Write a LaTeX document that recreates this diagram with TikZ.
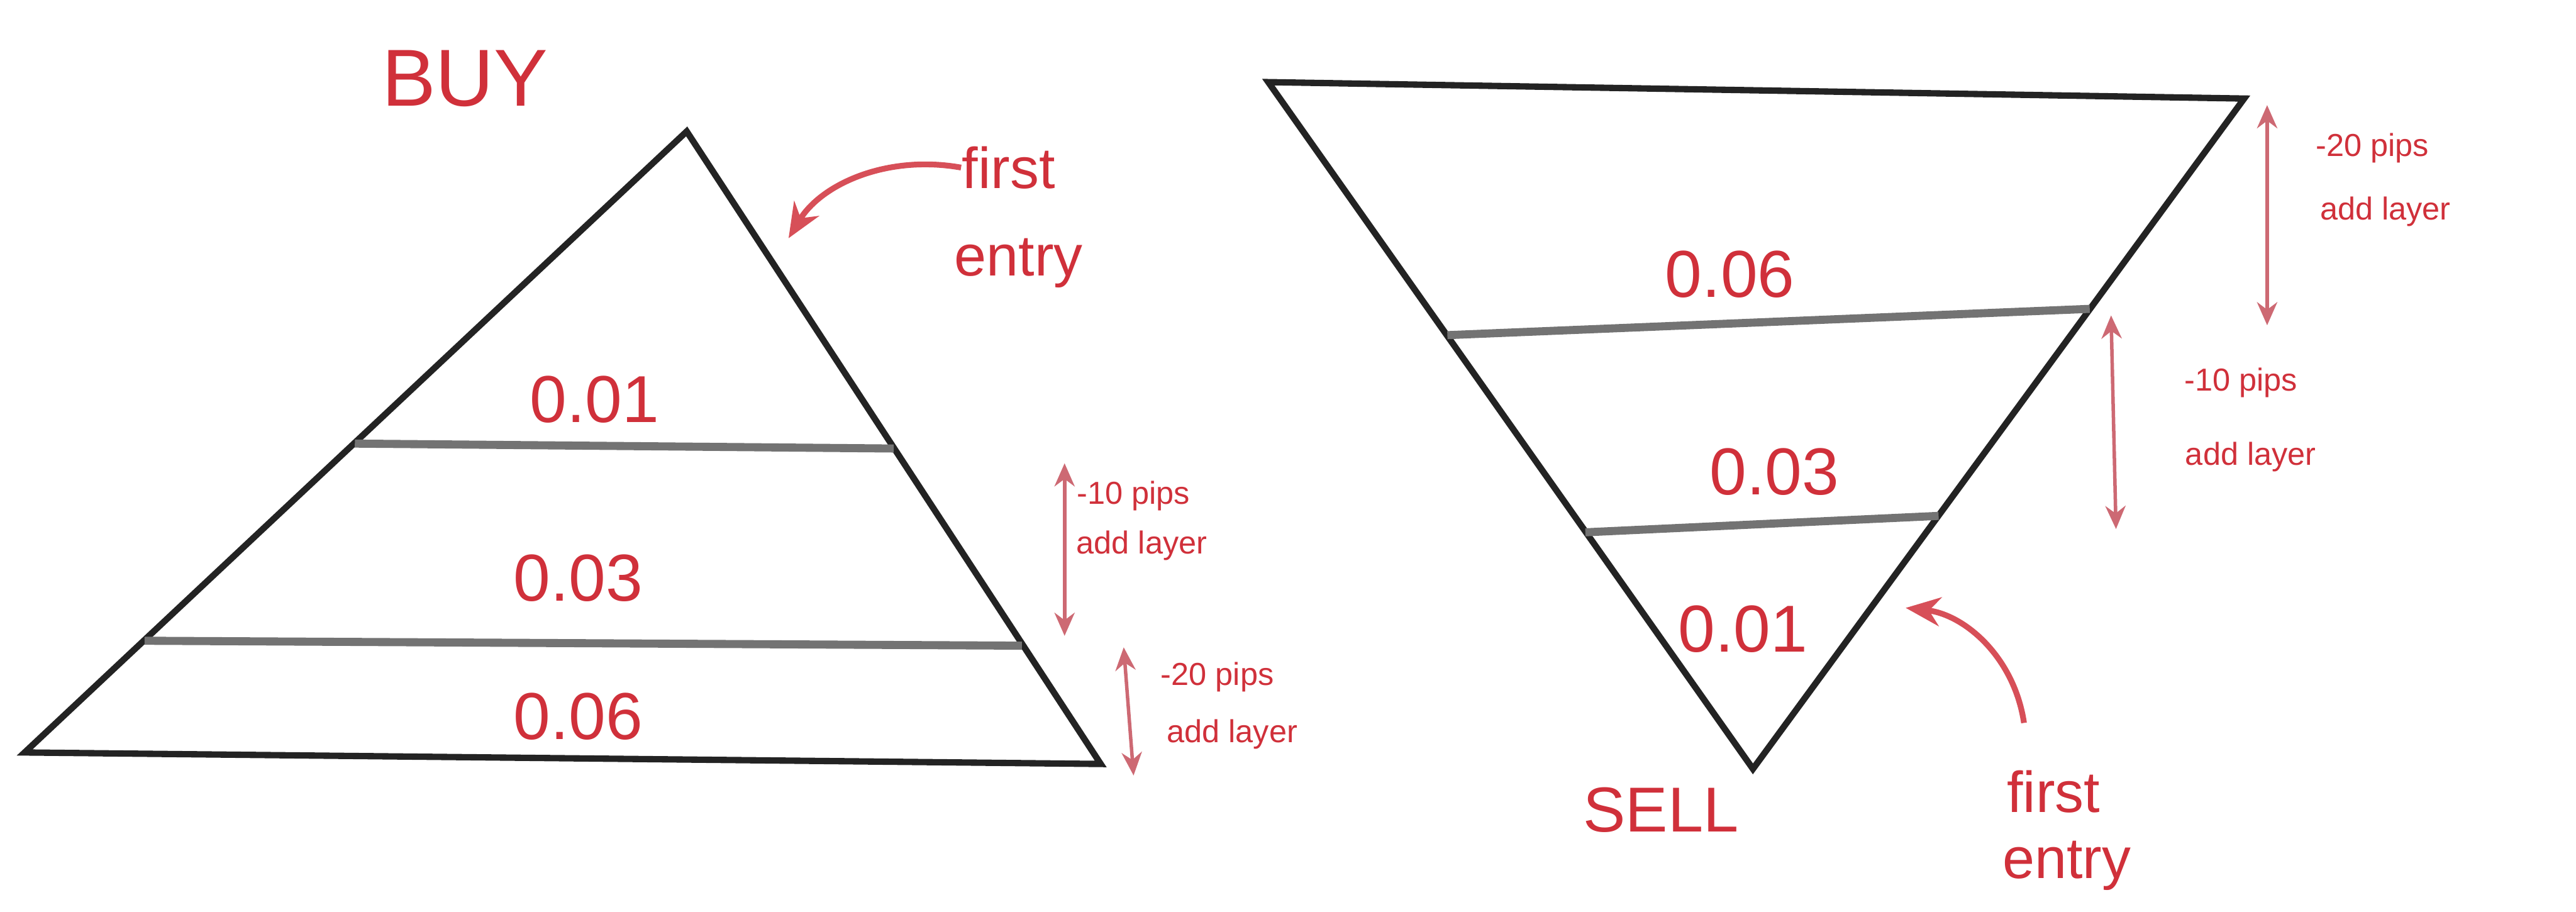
\documentclass[tikz,border=0pt]{standalone}
\usepackage{fontspec}
\setmainfont{Liberation Sans}
\usetikzlibrary{arrows.meta}
\definecolor{ink}{RGB}{208,48,58}
\definecolor{arr}{RGB}{205,105,115}
\definecolor{edgec}{RGB}{35,35,35}
\definecolor{sepc}{RGB}{115,115,115}
\begin{document}
\begin{tikzpicture}[x=0.1mm,y=-0.1mm,
  tri/.style={draw=edgec,line width=1.1pt,line join=miter},
  sepline/.style={draw=sepc,line width=1.4pt},
  lbl/.style={text=ink,font=\fontsize{11.5}{13}\selectfont,inner sep=0pt},
  titlelbl/.style={text=ink,font=\fontsize{14}{16}\selectfont,inner sep=0pt},
  sell/.style={text=ink,font=\fontsize{11}{13}\selectfont,inner sep=0pt},
  note/.style={text=ink,font=\fontsize{5.5}{7}\selectfont,inner sep=0pt},
  entrylbl/.style={text=ink,font=\fontsize{10}{11}\selectfont,inner sep=0pt},
  dimarrow/.style={draw=arr,line width=0.6pt,{Stealth[length=4pt,width=3.5pt]}-{Stealth[length=4pt,width=3.5pt]}},
  curvarrow/.style={draw=ink!85,line width=1pt,-{Stealth[length=6pt,width=5pt]}},
]
\useasboundingbox (0,0) rectangle (1568,555);

% ---------- BUY pyramid ----------
\coordinate (bA) at (418,80);
\coordinate (bB) at (15,458);
\coordinate (bC) at (670,465);
\draw[tri] (bA) -- (bB) -- (bC) -- cycle;
\coordinate (bs1l) at (216,270);
\coordinate (bs1r) at (544,273);
\coordinate (bs2l) at (88,390);
\coordinate (bs2r) at (622,393);
\draw[sepline] (bs1l) -- (bs1r);
\draw[sepline] (bs2l) -- (bs2r);

\node[titlelbl] (buy) at (283,48) {BUY};
\node[lbl] (b001) at (362,243) {0.01};
\node[lbl] (b003) at (352,352) {0.03};
\node[lbl] (b006) at (352,436) {0.06};

\node[entrylbl] (bfirst) at (614,102) {first};
\node[entrylbl] (bentry) at (620,160) {entry};
\coordinate (bhit) at (480,145);
\draw[curvarrow] (bfirst.west) .. controls (540,94) and (500,112) .. (bhit);

\coordinate (bd1t) at (648,282);
\coordinate (bd1b) at (648,387);
\draw[dimarrow] (bd1t) -- (bd1b);
\node[note] (bn1a) at (690,302) {-10 pips};
\node[note] (bn1b) at (695,332) {add layer};

\coordinate (bd2t) at (684,394);
\coordinate (bd2b) at (690,472);
\draw[dimarrow] (bd2t) -- (bd2b);
\node[note] (bn2a) at (741,412) {-20 pips};
\node[note] (bn2b) at (750,447) {add layer};

% ---------- SELL pyramid ----------
\coordinate (sA) at (772,50);
\coordinate (sB) at (1366,60);
\coordinate (sC) at (1067,468);
\draw[tri] (sA) -- (sB) -- (sC) -- cycle;
\coordinate (ss1l) at (881,204);
\coordinate (ss1r) at (1272,188);
\coordinate (ss2l) at (965,324);
\coordinate (ss2r) at (1180,314);
\draw[sepline] (ss1l) -- (ss1r);
\draw[sepline] (ss2l) -- (ss2r);

\node[lbl] (s006) at (1053,167) {0.06};
\node[lbl] (s003) at (1080,287) {0.03};
\node[lbl] (s001) at (1061,383) {0.01};
\node[sell] (sellt) at (1011,493) {SELL};

\coordinate (sd1t) at (1380,64);
\coordinate (sd1b) at (1380,198);
\draw[dimarrow] (sd1t) -- (sd1b);
\node[note] (sn1a) at (1444,90) {-20 pips};
\node[note] (sn1b) at (1452,129) {add layer};

\coordinate (sd2t) at (1285,192);
\coordinate (sd2b) at (1288,322);
\draw[dimarrow] (sd2t) -- (sd2b);
\node[note] (sn2a) at (1364,233) {-10 pips};
\node[note] (sn2b) at (1370,278) {add layer};

\node[entrylbl] (sfirst) at (1250,482) {first};
\node[entrylbl] (sentry) at (1258,527) {entry};
\coordinate (sstart) at (1232,440);
\coordinate (shit) at (1160,370);
\draw[curvarrow] (sstart) .. controls (1226,400) and (1196,374) .. (shit);
\end{tikzpicture}
\end{document}
